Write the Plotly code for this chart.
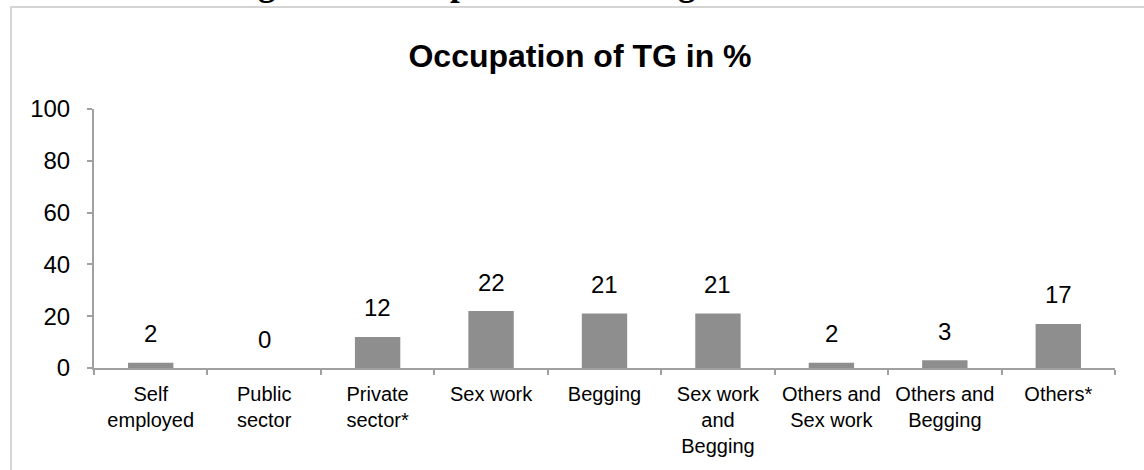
import plotly.graph_objects as go

categories = ["Self<br>employed", "Public<br>sector", "Private<br>sector*", "Sex work",
              "Begging", "Sex work<br>and<br>Begging", "Others and<br>Sex work",
              "Others and<br>Begging", "Others*"]
values = [2, 0, 12, 22, 21, 21, 2, 3, 17]
y_ticks = [0, 20, 40, 60, 80, 100]

chart_title = "Occupation of TG in %"
caption = "Figure 4: Occupation of Transgender in %"

W, H = 1144, 470
L, R, T, B = 94, 29, 109, 102
pw, ph = W - L - R, H - T - B

def px_x(x):
    return (x - L) / pw

def px_y(y):
    return (H - B - y) / ph

SANS = "Liberation Sans, Arial, sans-serif"

fig = go.Figure()
fig.add_trace(go.Bar(
    x=categories, y=values,
    marker=dict(color="#8e8e8e", line=dict(width=0)),
    width=0.4,
    hoverinfo="x+y",
))

annotations = []
for c, v in zip(categories, values):
    annotations.append(dict(
        x=c, y=v, xref="x", yref="y", text=str(v), showarrow=False,
        yanchor="middle", yshift=29,
        font=dict(family=SANS, size=24, color="#000"),
    ))

annotations.append(dict(
    x=px_x(544), y=px_y(-17), xref="paper", yref="paper", text=f"<b>{caption}</b>",
    showarrow=False, xanchor="center", yanchor="middle",
    font=dict(family="Liberation Serif, Times New Roman, serif", size=35, color="#000"),
))

fig.update_layout(
    width=W, height=H,
    margin=dict(l=L, r=R, t=T, b=B, pad=0),
    paper_bgcolor="white", plot_bgcolor="white",
    showlegend=False,
    title=dict(text=f"<b>{chart_title}</b>", x=580 / W, xanchor="center",
               y=1 - 56 / H, yanchor="middle", xref="container", yref="container",
               font=dict(family=SANS, size=32, color="#000")),
    bargap=0.6,
    annotations=annotations,
    shapes=[dict(type="rect", xref="paper", yref="paper",
                 x0=px_x(11), x1=px_x(1160), y0=px_y(490), y1=px_y(7),
                 line=dict(color="#c8c8c8", width=1.5), fillcolor="rgba(0,0,0,0)",
                 layer="below")],
    font=dict(family=SANS, color="#000"),
)

fig.update_xaxes(
    type="category", showgrid=False, zeroline=False,
    showline=True, linecolor="#a0a0a0", linewidth=2,
    ticks="outside", tickson="boundaries", ticklen=5, tickcolor="#a0a0a0", tickwidth=1.5,
    tickfont=dict(family=SANS, size=20, color="#000"),
    tickangle=0, ticklabelstandoff=7,
)
fig.update_yaxes(
    range=[0, 100], tickvals=y_ticks, showgrid=False, zeroline=False,
    showline=True, linecolor="#a0a0a0", linewidth=2,
    ticks="outside", ticklen=5, tickcolor="#a0a0a0", tickwidth=1.5,
    tickfont=dict(family=SANS, size=24, color="#000"),
    ticklabelstandoff=12,
)

fig.write_html("out.html", config={"displayModeBar": False},
               post_script="document.body.style.margin='0';document.body.style.overflow='hidden';")
